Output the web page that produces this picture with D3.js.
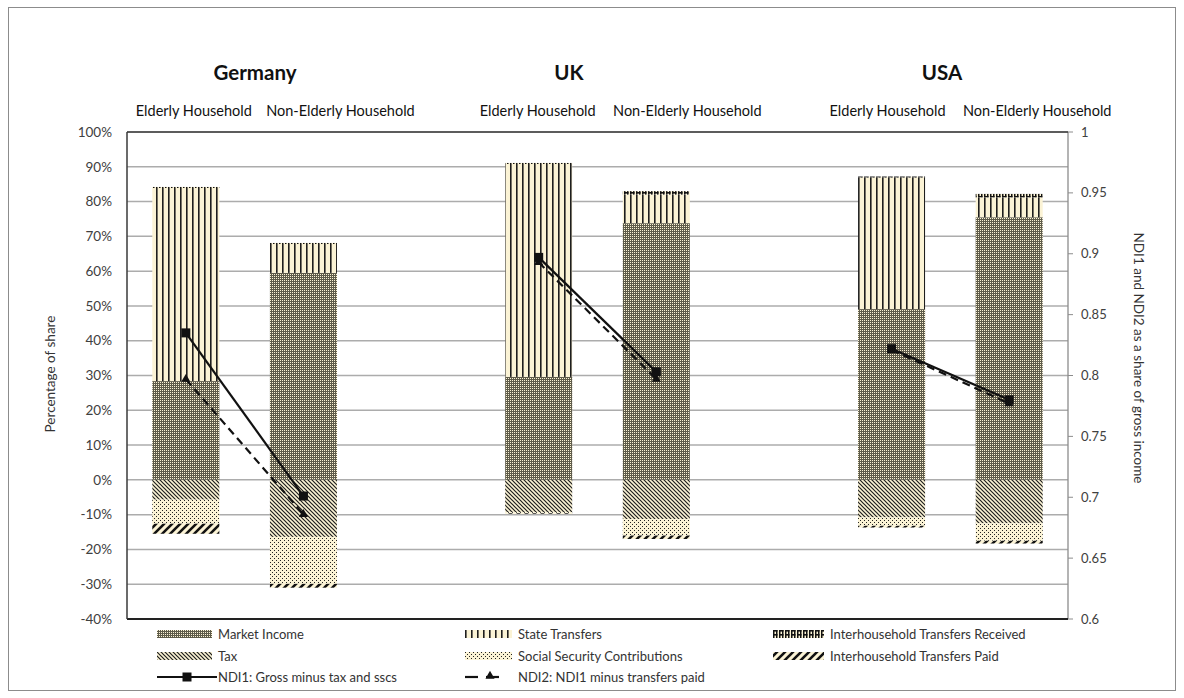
<!DOCTYPE html>
<html>
<head>
<meta charset="utf-8">
<script src="https://cdn.jsdelivr.net/npm/d3@7"></script>
<style>
  html, body { margin: 0; padding: 0; background: #fff; }
  svg { display: block; font-family: Lato, "Open Sans", sans-serif; }
</style>
</head>
<body>
<svg id="chart" width="1184" height="698"></svg>
<script>
// ---------------- DATA ----------------
const countries = ["Germany", "UK", "USA"];
const households = ["Elderly Household", "Non-Elderly Household"];
// order: Germany E, Germany NE, UK E, UK NE, USA E, USA NE
const marketIncome      = [28.4, 59.5, 29.6, 73.8, 49.1, 75.5];
const stateTransfers    = [55.5,  8.3, 61.2,  8.2, 37.8,  5.7];
const ihTransfersRecv   = [ 0.3,  0.3,  0.3,  1.0,  0.3,  1.0];
const tax               = [-5.7, -16.4, -9.3, -11.3, -10.8, -12.5];
const socialSecurity    = [-6.9, -13.5, -0.3,  -4.7,  -2.4,  -5.0];
const ihTransfersPaid   = [-2.9,  -1.1, -0.2,  -1.0,  -0.5,  -0.8];
const ndi1 = [0.835, 0.701, 0.897, 0.803, 0.822, 0.780];
const ndi2 = [0.797, 0.686, 0.893, 0.797, 0.821, 0.777];
const leftTicks  = [-40, -30, -20, -10, 0, 10, 20, 30, 40, 50, 60, 70, 80, 90, 100];
const rightTicks = [0.6, 0.65, 0.7, 0.75, 0.8, 0.85, 0.9, 0.95, 1];
const legendLabels = [
  "Market Income", "State Transfers", "Interhousehold Transfers Received",
  "Tax", "Social Security Contributions", "Interhousehold Transfers Paid",
  "NDI1: Gross minus tax and sscs", "NDI2: NDI1 minus transfers paid"
];

// ---------------- SETUP ----------------
const svg = d3.select("#chart");
const plot = { left: 127, right: 1068, top: 132, bottom: 619 };

const slots = [];
countries.forEach((c, ci) => {
  households.forEach(h => slots.push(c + "|" + h));
  if (ci < countries.length - 1) slots.push("gap" + ci);
});
const barKeys = [];
countries.forEach(c => households.forEach(h => barKeys.push(c + "|" + h)));

const x = d3.scaleBand().domain(slots).range([plot.left, plot.right])
  .paddingInner(0.43).paddingOuter(0.215);
const yL = d3.scaleLinear().domain([-40, 100]).range([plot.bottom, plot.top]);
const yR = d3.scaleLinear().domain([0.6, 1]).range([plot.bottom, plot.top]);

// ---------------- PATTERNS ----------------
const cream = "#fbf3d5";
const defs = svg.append("defs");
function pat(id, w, h, draw) {
  const p = defs.append("pattern").attr("id", id).attr("patternUnits", "userSpaceOnUse")
    .attr("width", w).attr("height", h);
  draw(p);
}
pat("pMarket", 2, 2, p => {
  p.append("rect").attr("width", 2).attr("height", 2).attr("fill", "#5e5b4a");
  p.append("rect").attr("width", 1).attr("height", 1).attr("fill", cream);
});
pat("pState", 6, 6, p => {
  p.append("rect").attr("width", 6).attr("height", 6).attr("fill", cream);
  p.append("rect").attr("x", 0).attr("width", 1.6).attr("height", 6).attr("fill", "#1e1e1e");
});
pat("pRecv", 6, 4, p => {
  p.append("rect").attr("width", 6).attr("height", 4).attr("fill", cream);
  p.append("rect").attr("x", 0).attr("y", 0).attr("width", 4.5).attr("height", 1.6).attr("fill", "#111");
  p.append("rect").attr("x", 0).attr("y", 0).attr("width", 1.5).attr("height", 4).attr("fill", "#111");
  p.append("rect").attr("x", 3).attr("y", 0).attr("width", 1.5).attr("height", 4).attr("fill", "#111");
});
pat("pTax", 4, 4, p => {
  p.append("rect").attr("width", 4).attr("height", 4).attr("fill", cream);
  p.append("path").attr("d", "M0,0L4,4M-1,3L1,5M3,-1L5,1")
    .attr("stroke", "#1e1e1e").attr("stroke-width", 1.2);
});
pat("pSSC", 4, 4, p => {
  p.append("rect").attr("width", 4).attr("height", 4).attr("fill", cream);
  p.append("rect").attr("x", 0).attr("y", 0).attr("width", 1).attr("height", 1).attr("fill", "#222");
  p.append("rect").attr("x", 2).attr("y", 2).attr("width", 1).attr("height", 1).attr("fill", "#222");
});
pat("pPaid", 8, 8, p => {
  p.append("rect").attr("width", 8).attr("height", 8).attr("fill", cream);
  p.append("path").attr("d", "M0,8L8,0M-2,2L2,-2M6,10L10,6")
    .attr("stroke", "#111").attr("stroke-width", 2.6);
});

// ---------------- FRAME ----------------
svg.append("rect").attr("x", 8.5).attr("y", 7.5).attr("width", 1167).attr("height", 683)
  .attr("fill", "none").attr("stroke", "#8c8c8c").attr("stroke-width", 1);

svg.append("g").selectAll("line").data(leftTicks).join("line")
  .attr("x1", plot.left).attr("x2", plot.right)
  .attr("y1", d => yL(d)).attr("y2", d => yL(d))
  .attr("stroke", "#acacac").attr("stroke-width", 1.5);

svg.append("g").selectAll("text").data(leftTicks).join("text")
  .attr("x", 112).attr("y", d => yL(d)).attr("dy", "0.35em")
  .attr("text-anchor", "end").attr("font-size", 13.5).attr("fill", "#404040")
  .text(d => d + "%");

const rAxis = svg.append("g");
rAxis.append("line").attr("x1", plot.right).attr("x2", plot.right)
  .attr("y1", plot.top).attr("y2", plot.bottom).attr("stroke", "#8c8c8c").attr("stroke-width", 1.3);
rAxis.selectAll("line.t").data(rightTicks).join("line").attr("class", "t")
  .attr("x1", plot.right).attr("x2", plot.right + 5)
  .attr("y1", d => yR(d)).attr("y2", d => yR(d)).attr("stroke", "#8c8c8c");
rAxis.selectAll("text").data(rightTicks).join("text")
  .attr("x", plot.right + 13).attr("y", d => yR(d)).attr("dy", "0.35em")
  .attr("font-size", 13).attr("fill", "#404040").text(d => d);

// ---------------- BARS ----------------
const posSeries = [
  { vals: marketIncome, fill: "url(#pMarket)" },
  { vals: stateTransfers, fill: "url(#pState)" },
  { vals: ihTransfersRecv, fill: "url(#pRecv)" }
];
const negSeries = [
  { vals: tax, fill: "url(#pTax)" },
  { vals: socialSecurity, fill: "url(#pSSC)" },
  { vals: ihTransfersPaid, fill: "url(#pPaid)" }
];
const segs = [];
barKeys.forEach((k, i) => {
  let acc = 0;
  posSeries.forEach(s => { segs.push({ k, y0: acc, y1: acc + s.vals[i], fill: s.fill }); acc += s.vals[i]; });
  acc = 0;
  negSeries.forEach(s => { segs.push({ k, y0: acc, y1: acc + s.vals[i], fill: s.fill }); acc += s.vals[i]; });
});
svg.append("g").selectAll("rect").data(segs).join("rect")
  .attr("x", d => x(d.k)).attr("width", x.bandwidth())
  .attr("y", d => yL(Math.max(d.y0, d.y1)))
  .attr("height", d => Math.abs(yL(d.y0) - yL(d.y1)))
  .attr("fill", d => d.fill);

svg.append("line").attr("x1", plot.left).attr("x2", plot.right).attr("y1", plot.top).attr("y2", plot.top)
  .attr("stroke", "#3a3a3a").attr("stroke-width", 1.5);
svg.append("line").attr("x1", plot.left).attr("x2", plot.right).attr("y1", plot.bottom).attr("y2", plot.bottom)
  .attr("stroke", "#222").attr("stroke-width", 1.8);
svg.append("line").attr("x1", plot.left).attr("x2", plot.left).attr("y1", plot.top).attr("y2", plot.bottom)
  .attr("stroke", "#3a3a3a").attr("stroke-width", 1.5);

// ---------------- LINES ----------------
const cx = k => x(k) + x.bandwidth() / 2;
const line2 = d3.line().x(d => cx(d.k)).y(d => yR(d.v));
countries.forEach((c, ci) => {
  const i0 = ci * 2, i1 = ci * 2 + 1;
  const p2 = [{ k: barKeys[i0], v: ndi2[i0] }, { k: barKeys[i1], v: ndi2[i1] }];
  const p1 = [{ k: barKeys[i0], v: ndi1[i0] }, { k: barKeys[i1], v: ndi1[i1] }];
  svg.append("path").attr("d", line2(p2)).attr("fill", "none").attr("stroke", "#111")
    .attr("stroke-width", 2.2).attr("stroke-dasharray", "8,5");
  svg.append("g").selectAll("path").data(p2).join("path")
    .attr("transform", d => `translate(${cx(d.k)},${yR(d.v)})`)
    .attr("d", d3.symbol(d3.symbolTriangle, 36)).attr("fill", "#111");
  svg.append("path").attr("d", line2(p1)).attr("fill", "none").attr("stroke", "#111")
    .attr("stroke-width", 2.2);
  svg.append("g").selectAll("rect").data(p1).join("rect")
    .attr("x", d => cx(d.k) - 4.5).attr("y", d => yR(d.v) - 4.5)
    .attr("width", 9).attr("height", 9).attr("fill", "#111");
});

// ---------------- TITLES / LABELS ----------------
const titleX = [255, 569, 942];
svg.append("g").selectAll("text").data(countries).join("text")
  .attr("x", (d, i) => titleX[i]).attr("y", 80).attr("text-anchor", "middle")
  .attr("font-size", 20.5).attr("font-weight", "bold").attr("fill", "#111").text(d => d);

const hhOffset = [8, 37, -1, 31, -4, 28];
svg.append("g").selectAll("text").data(barKeys).join("text")
  .attr("x", (d, i) => cx(d) + hhOffset[i]).attr("y", 116).attr("text-anchor", "middle")
  .attr("font-size", 14.5).attr("fill", "#111").text(d => d.split("|")[1]);

svg.append("text").attr("transform", "translate(50,374) rotate(-90)")
  .attr("text-anchor", "middle").attr("dy", "0.35em").attr("font-size", 13.5).attr("fill", "#333")
  .text("Percentage of share");
svg.append("text").attr("transform", "translate(1139,358) rotate(90)")
  .attr("text-anchor", "middle").attr("dy", "0.35em").attr("font-size", 13.5).attr("fill", "#333")
  .text("NDI1 and NDI2 as a share of gross income");

// ---------------- LEGEND ----------------
const legFills = ["url(#pMarket)", "url(#pState)", "url(#pRecv)", "url(#pTax)", "url(#pSSC)", "url(#pPaid)"];
const colX = [157, 465, 773];
const textOff = [61, 53, 57];
const rowY = [634, 656, 677];
const leg = svg.append("g");
legendLabels.forEach((lab, i) => {
  const col = i % 3, row = Math.floor(i / 3);
  const g = leg.append("g").attr("transform", `translate(${colX[col]},${rowY[row]})`);
  if (i < 6) {
    g.append("rect").attr("x", 0).attr("y", -4).attr("width", textOff[col] - 6).attr("height", 8).attr("fill", legFills[i]);
  } else if (i === 6) {
    g.append("line").attr("x1", 0).attr("x2", 60).attr("y1", 0).attr("y2", 0).attr("stroke", "#111").attr("stroke-width", 2.2);
    g.append("rect").attr("x", 25.5).attr("y", -4.5).attr("width", 9).attr("height", 9).attr("fill", "#111");
  } else {
    g.append("line").attr("x1", 0).attr("x2", 13).attr("y1", 0).attr("y2", 0).attr("stroke", "#111").attr("stroke-width", 2.2);
    g.append("line").attr("x1", 21).attr("x2", 34).attr("y1", 0).attr("y2", 0).attr("stroke", "#111").attr("stroke-width", 2.2);
    g.append("path").attr("transform", "translate(25,-1)").attr("d", d3.symbol(d3.symbolTriangle, 36)).attr("fill", "#111");
  }
  g.append("text").attr("x", textOff[col]).attr("y", 0).attr("dy", "0.35em")
    .attr("font-size", 13).attr("fill", "#333").text(lab);
});
</script>
</body>
</html>
